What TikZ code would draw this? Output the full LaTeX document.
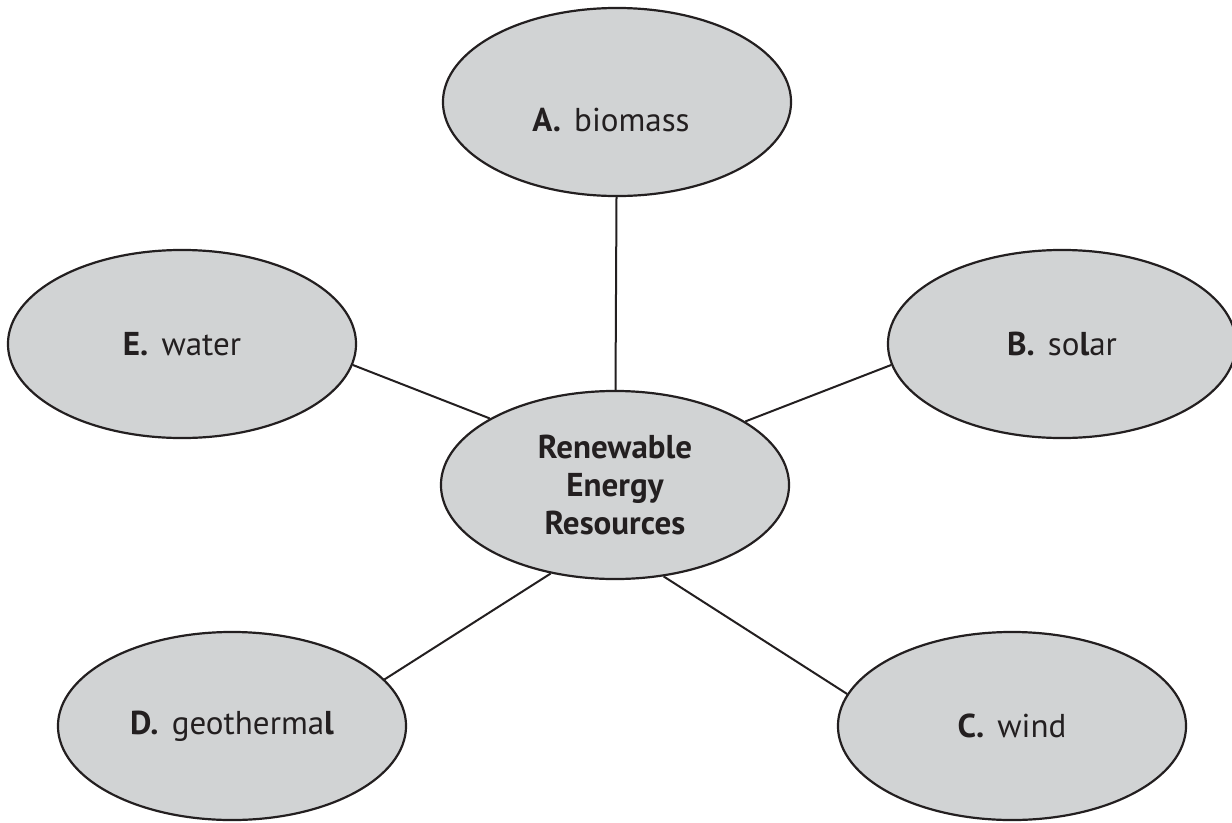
\documentclass[tikz,border=0pt]{standalone}
\usepackage{fontspec}
\setmainfont{PT Sans}
\usetikzlibrary{shapes.geometric}
\definecolor{bubble}{HTML}{D1D3D4}
\definecolor{ink}{HTML}{231F20}
\newcommand{\lettered}[2]{\textbf{#1}\hspace{0.4em}#2}
\begin{document}
\begin{tikzpicture}[x=0.025cm,y=-0.025cm,
        leaf/.style={ellipse,draw=ink,fill=bubble,line width=0.055cm,minimum width=8.7cm,minimum height=4.7cm,inner sep=0pt,text=ink,font=\fontsize{23.5}{27}\selectfont},
        hub/.style={leaf,align=center,font=\fontsize{23.5}{27}\selectfont\bfseries},
        link/.style={draw=ink,line width=0.05cm}]
        \useasboundingbox (0,0) rectangle (1232,823);
        \clip (0,0) rectangle (1232,823);
        \node[hub] (res) at (615,485) {Renewable\\Energy\\Resources};
        \node[leaf] (a) at (617,102) {};
        \node[text=ink,font=\fontsize{23.5}{27}\selectfont] (atxt) at (611,120) {\lettered{A.}{biomass}};
        \node[leaf] (b) at (1062,344) {\lettered{B.}{so\textbf{l}ar}};
        \node[leaf] (c) at (1012,726) {\lettered{C.}{wind}};
        \node[leaf] (d) at (232,726) {\lettered{D.}{geotherma\textbf{l}}};
        \node[leaf] (e) at (182,344) {\lettered{E.}{water}};
        \draw[link] (a) -- (res);
        \draw[link] (b.-173.5) -- (res.26.6);
        \draw[link] (c.169.8) -- (res.-62.7);
        \draw[link] (d.17.2) -- (res.234.5);
        \draw[link] (e.-7.9) -- (res.152.9);
    \end{tikzpicture}
\end{document}
